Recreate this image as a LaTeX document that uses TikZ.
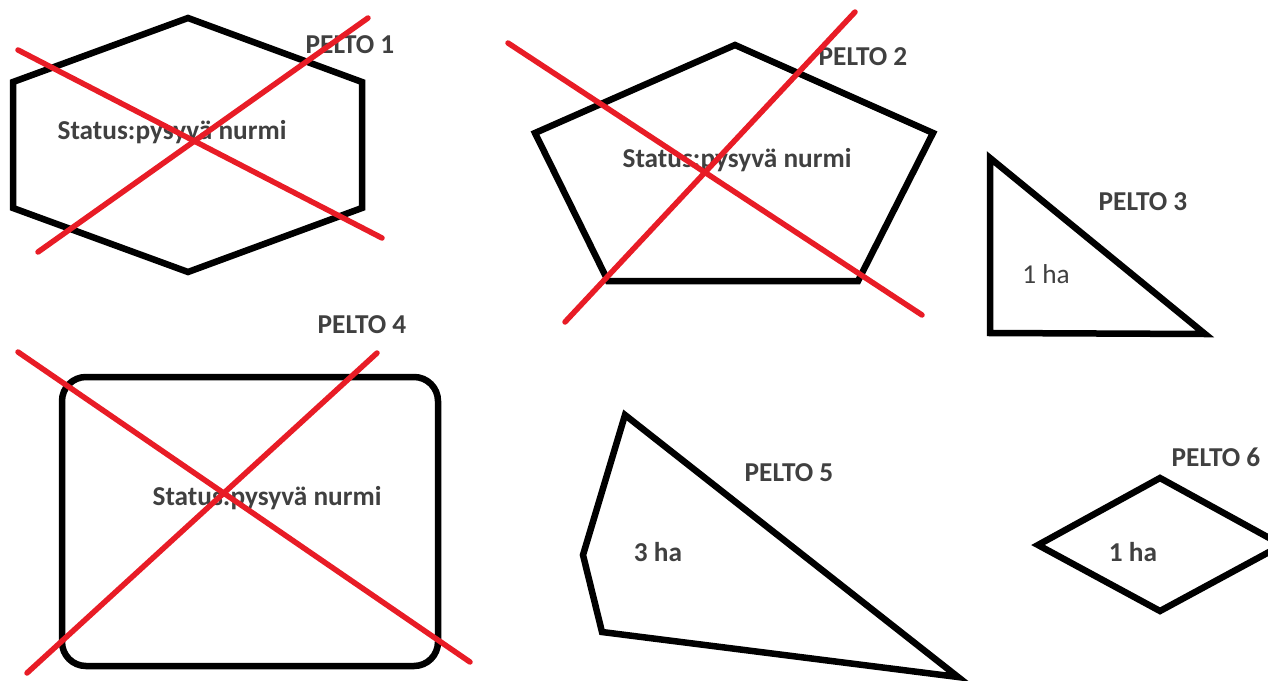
\documentclass[tikz,border=0pt]{standalone}
\usepackage{fontspec}
\setmainfont{Carlito}
\definecolor{crossred}{RGB}{232,28,38}
\definecolor{txtgray}{RGB}{64,64,64}
\begin{document}
\begin{tikzpicture}[x=1pt,y=-1pt,
  field/.style={draw=black,line width=6.5pt,line join=miter},
  cross/.style={draw=crossred,line width=5.5pt,line cap=round},
  lbl/.style={text=txtgray,font=\fontsize{27.3}{32}\selectfont\bfseries,inner sep=0pt},
  lblthin/.style={text=txtgray,font=\fontsize{27.3}{32}\selectfont,inner sep=0pt}]
\useasboundingbox (0,0) rectangle (1268,680);
\clip (0,0) rectangle (1268,680);
% PELTO 1 - hexagon
\draw[field] (188,18) -- (362,82) -- (362,208) -- (188,272) -- (13,208) -- (13,82) -- cycle;
\node[lbl] (s1) at (172,132) {Status:pysyvä nurmi};
\node[lbl] (p1) at (350,45) {PELTO 1};
\draw[cross] (18,50) -- (382,238);
\draw[cross] (368,18) -- (38,252);
% PELTO 2 - pentagon
\draw[field] (735,45) -- (933,133) -- (858,281) -- (608,281) -- (535,133) -- cycle;
\node[lbl] (s2) at (737,160) {Status:pysyvä nurmi};
\node[lbl] (p2) at (863,57) {PELTO 2};
\draw[cross] (508,43) -- (922,315);
\draw[cross] (855,12) -- (565,322);
% PELTO 3 - triangle
\draw[field] (990,158) -- (1205,334) -- (990,333) -- cycle;
\node[lbl] (p3) at (1143,202) {PELTO 3};
\node[lblthin] (h3) at (1046,274) {1 ha};
% PELTO 4 - rounded rectangle
\draw[field,rounded corners=24pt] (62,377) rectangle (438,666);
\node[lbl] (s4) at (267,498) {Status:pysyvä nurmi};
\node[lbl] (p4) at (362,325) {PELTO 4};
\draw[cross] (18,352) -- (470,662);
\draw[cross] (377,353) -- (27,673);
% PELTO 5 - quadrilateral
\draw[field] (625,415) -- (958,677) -- (602,632) -- (583,555) -- cycle;
\node[lbl] (p5) at (789,473) {PELTO 5};
\node[lbl] (h5) at (658,552) {3 ha};
% PELTO 6 - diamond
\draw[field] (1160,478) -- (1282,545) -- (1160,611) -- (1038,545) -- cycle;
\node[lbl] (p6) at (1216,457) {PELTO 6};
\node[lbl] (h6) at (1133,552) {1 ha};
\end{tikzpicture}
\end{document}
